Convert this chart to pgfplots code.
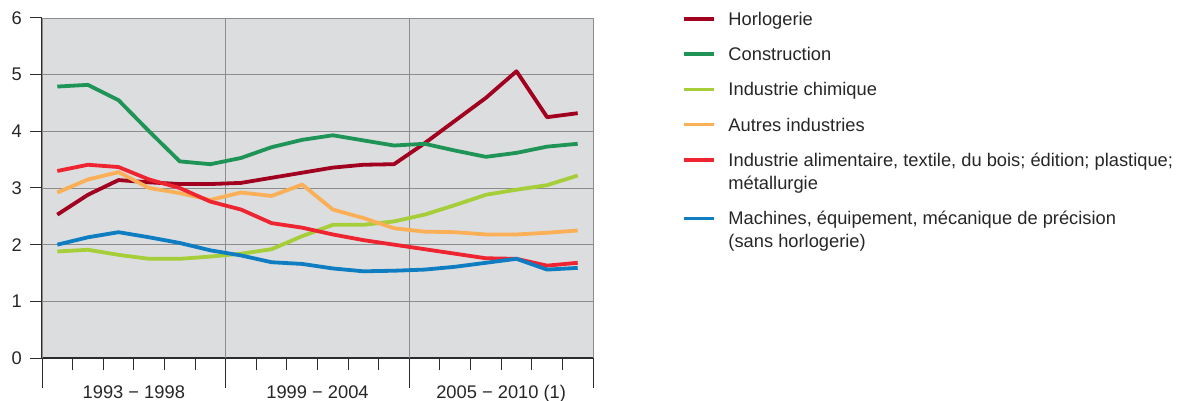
\documentclass[border=0pt]{standalone}
\usepackage{pgfplots}
\pgfplotsset{compat=1.18}
\usepackage{fontspec}
\setmainfont{Liberation Sans}
\definecolor{cHorl}{HTML}{A1001F}
\definecolor{cCons}{HTML}{1F9457}
\definecolor{cChim}{HTML}{A6CE39}
\definecolor{cAutr}{HTML}{FBB057}
\definecolor{cAlim}{HTML}{EE2430}
\definecolor{cMach}{HTML}{0F7DC2}
\definecolor{bgc}{HTML}{DCDDDF}
\definecolor{gridc}{HTML}{8C8C8C}
\definecolor{axisc}{HTML}{2B2B2B}
\definecolor{txtc}{HTML}{262626}
\pgfplotsset{
  oneline/.style={legend image code/.code={\draw[##1, line width=3.5bp] (0bp,6.5bp) -- (30bp,6.5bp);}},
  twoline/.style={legend image code/.code={\draw[##1, line width=3.5bp] (0bp,29.5bp) -- (30bp,29.5bp);}},
}
\pgfplotstableread{
x    horl cons chim autr alim mach
0.5  2.53 4.79 1.88 2.92 3.30 2.00
1.5  2.88 4.82 1.91 3.15 3.41 2.13
2.5  3.14 4.55 1.82 3.28 3.37 2.22
3.5  3.10 4.00 1.75 3.00 3.15 2.13
4.5  3.07 3.47 1.75 2.91 3.00 2.03
5.5  3.07 3.42 1.79 2.79 2.76 1.90
6.5  3.09 3.53 1.84 2.92 2.62 1.81
7.5  3.18 3.72 1.92 2.86 2.38 1.69
8.5  3.27 3.85 2.15 3.06 2.30 1.66
9.5  3.36 3.93 2.35 2.62 2.18 1.58
10.5 3.41 3.84 2.35 2.47 2.08 1.53
11.5 3.42 3.75 2.41 2.29 2.00 1.54
12.5 3.79 3.78 2.53 2.23 1.92 1.56
13.5 4.19 3.66 2.70 2.22 1.84 1.61
14.5 4.59 3.55 2.88 2.18 1.76 1.68
15.5 5.06 3.62 2.97 2.18 1.75 1.75
16.5 4.25 3.73 3.05 2.21 1.63 1.56
17.5 4.32 3.78 3.22 2.25 1.68 1.59
}\datatable
\begin{document}
\begin{tikzpicture}
\useasboundingbox (0,0) rectangle (1182bp,401bp);
\begin{axis}[
  at={(42bp,43bp)}, anchor=south west,
  scale only axis, width=551bp, height=340bp,
  xmin=0, xmax=18, ymin=0, ymax=6,
  axis x line*=bottom, axis y line*=left,
  axis line style={draw=axisc, line width=1.2bp, -},
  axis background/.style={fill=bgc},
  ytick={0,1,2,3,4,5,6},
  ymajorgrids,
  grid style={draw=gridc, line width=0.9bp},
  xtick={3,9,15},
  xticklabels={1993 − 1998, 1999 − 2004, 2005 − 2010 (1)},
  minor xtick={1,2,4,5,7,8,10,11,13,14,16,17},
  extra x ticks={0,6,12,18},
  extra x tick labels={},
  extra x tick style={grid=major, major tick length=30bp},
  tick align=outside,
  major tick length=12bp, minor tick length=12bp,
  tick style={draw=axisc, line width=1bp},
  /pgf/number format/assume math mode=true,
  tick label style={font=\fontsize{18.3bp}{23bp}\selectfont, text=txtc, inner sep=0pt},
  yticklabel style={anchor=east, xshift=-8bp},
  xticklabel style={anchor=base, yshift=-28bp},
  legend style={at={(1.1615,1.0176)}, anchor=north west, draw=none, fill=none,
    inner sep=0pt, outer sep=0pt, font=\fontsize{18.3bp}{23bp}\selectfont, text=txtc,
    row sep=20.5bp, cells={anchor=base west, align=left}, nodes={inner sep=0pt},
    /tikz/every odd column/.append style={column sep=13bp}},
  oneline,
  every axis plot/.append style={line width=3.8bp, line join=round},
]
\addplot[cHorl] table[x=x, y=horl] {\datatable};
\addlegendentry{Horlogerie}
\addplot[cCons] table[x=x, y=cons] {\datatable};
\addlegendentry{Construction}
\addplot[cChim] table[x=x, y=chim] {\datatable};
\addlegendentry{Industrie chimique}
\addplot[cAutr] table[x=x, y=autr] {\datatable};
\addlegendentry{Autres industries}
\addplot[cAlim, twoline] table[x=x, y=alim] {\datatable};
\addlegendentry{Industrie alimentaire, textile, du bois; édition; plastique;\\métallurgie}
\addplot[cMach, twoline] table[x=x, y=mach] {\datatable};
\addlegendentry{Machines, équipement, mécanique de précision\\(sans horlogerie)}
\end{axis}
\end{tikzpicture}
\end{document}
